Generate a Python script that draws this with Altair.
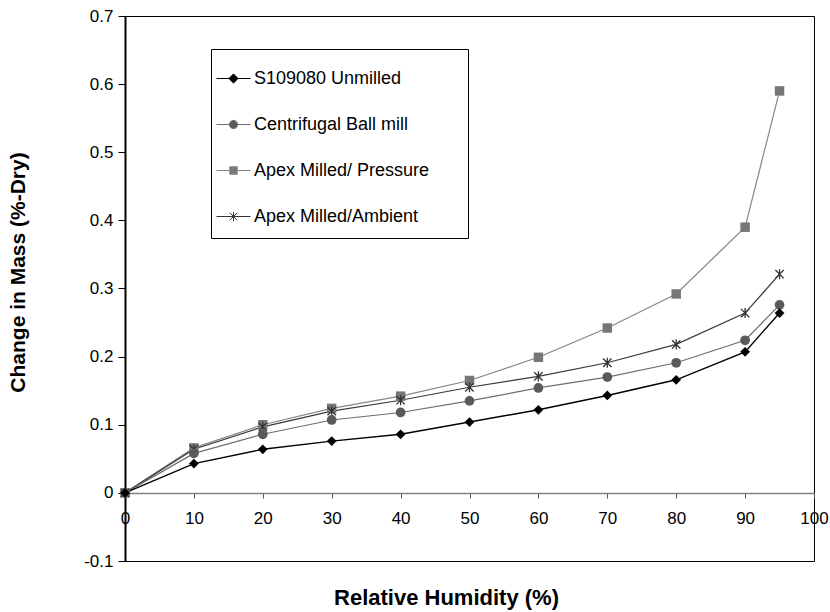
import altair as alt
import pandas as pd

# ---- data ----
rh = [0, 10, 20, 30, 40, 50, 60, 70, 80, 90, 95]
series_names = ["S109080 Unmilled", "Centrifugal Ball mill",
                "Apex Milled/ Pressure", "Apex Milled/Ambient"]
unmilled    = [0, 0.043, 0.064, 0.076, 0.086, 0.104, 0.122, 0.143, 0.166, 0.207, 0.264]
centrifugal = [0, 0.058, 0.086, 0.107, 0.118, 0.135, 0.154, 0.170, 0.191, 0.224, 0.276]
pressure    = [0, 0.066, 0.100, 0.124, 0.142, 0.165, 0.199, 0.242, 0.292, 0.390, 0.590]
ambient     = [0, 0.064, 0.097, 0.120, 0.136, 0.155, 0.171, 0.191, 0.218, 0.264, 0.321]
x_ticks = [0, 10, 20, 30, 40, 50, 60, 70, 80, 90, 100]
y_ticks = [-0.1, 0, 0.1, 0.2, 0.3, 0.4, 0.5, 0.6, 0.7]

values = [unmilled, centrifugal, pressure, ambient]
rows = []
for name, vals in zip(series_names, values):
    for x, y in zip(rh, vals):
        rows.append({"RH": x, "Mass": y, "Series": name})
df = pd.DataFrame(rows)

FONT = "Liberation Sans"
ASTER = "M-1,-1L1,1M-1,1L1,-1M0,-1.2L0,1.2"

styles = {
    "S109080 Unmilled":      dict(line="#000000", lw=1.4, shape="diamond", fill="#000000", filled=True, size=95),
    "Centrifugal Ball mill": dict(line="#6e6e6e", lw=1.2, shape="circle", fill="#5a5a5a", filled=True, size=95),
    "Apex Milled/ Pressure": dict(line="#858585", lw=1.2, shape="square", fill="#777777", filled=True, size=90),
    "Apex Milled/Ambient":   dict(line="#3a3a3a", lw=1.2, shape=ASTER, fill="#333333", filled=False, size=70),
}

x_enc = alt.X("RH:Q", scale=alt.Scale(domain=[0, 100], nice=False),
              axis=alt.Axis(values=x_ticks, title="Relative Humidity (%)", offset=-68,
                            grid=False, labelFlush=False, domainColor="#808080",
                            domainWidth=1.5, tickColor="#555555", tickSize=5,
                            labelPadding=12, labelFontSize=17, labelFont=FONT,
                            labelColor="black", titleFont=FONT, titleFontSize=22,
                            titleFontWeight="bold", titleColor="black",
                            titleX=321, titleY=104, titleBaseline="middle"))
y_enc = alt.Y("Mass:Q", scale=alt.Scale(domain=[-0.1, 0.7], nice=False),
              axis=alt.Axis(values=y_ticks, title="Change in Mass (%-Dry)", grid=False,
                            domainColor="black", domainWidth=2, tickColor="black",
                            tickSize=7, labelPadding=5, labelFontSize=17, labelFont=FONT,
                            labelColor="black",
                            labelExpr="replace(format(datum.value, '.1~f'), '\u2212', '-')",
                            titleFont=FONT, titleFontSize=21, titleFontWeight="bold",
                            titleColor="black", titleX=-107, titleY=256,
                            titleBaseline="middle"))

base = alt.Chart(df)
order = ["Apex Milled/ Pressure", "Apex Milled/Ambient", "Centrifugal Ball mill", "S109080 Unmilled"]

layers = []
for name in order:
    s = styles[name]
    layers.append(base.transform_filter(alt.datum.Series == name)
                  .mark_line(color=s["line"], strokeWidth=s["lw"])
                  .encode(x=x_enc, y=y_enc))
for name in order:
    s = styles[name]
    if s["filled"]:
        mk = base.mark_point(shape=s["shape"], filled=True, size=s["size"], color=s["fill"], opacity=1)
    else:
        mk = base.mark_point(shape=s["shape"], filled=False, size=s["size"], color=s["fill"],
                             strokeWidth=1.3, opacity=1)
    layers.append(mk.transform_filter(alt.datum.Series == name).encode(x=x_enc, y=y_enc))

# legend-only layer: symbols drawn as line + marker
leg_shapes = [
    "M-1,0L-0.27,0M-0.27,0L0,-0.27L0.27,0L0,0.27ZM0.27,0L1,0",
    "M-1,0L-0.24,0M0.24,0A0.24 0.24 0 1 1 -0.24,0A0.24 0.24 0 1 1 0.24,0ZM0.24,0L1,0",
    "M-1,0L-0.22,0M-0.22,-0.22L0.22,-0.22L0.22,0.22L-0.22,0.22ZM0.22,0L1,0",
    "M-1,0L1,0M-0.22,-0.22L0.22,0.22M-0.22,0.22L0.22,-0.22M0,-0.27L0,0.27",
]
leg_fill = ["#000000", "#5a5a5a", "#777777", "transparent"]
leg_stroke = ["#000000", "#6e6e6e", "#858585", "#333333"]

legend = alt.Legend(title="MM", titleOrient="right", titleFontSize=14, titlePadding=3,
                    titleOpacity=0, titleColor="white",
                    orient="none", legendX=86, legendY=33,
                    strokeColor="black", padding=12, rowPadding=19,
                    symbolSize=1156, symbolStrokeWidth=1, symbolOpacity=1,
                    symbolOffset=-7,
                    labelFont=FONT, labelFontSize=18, labelColor="black",
                    labelOffset=3, labelLimit=400, fillColor="white")
leg_layer = base.mark_point(filled=True, size=0, opacity=0).encode(
    x=x_enc, y=y_enc,
    shape=alt.Shape("Series:N", scale=alt.Scale(domain=series_names, range=leg_shapes), legend=legend),
    fill=alt.Fill("Series:N", scale=alt.Scale(domain=series_names, range=leg_fill), legend=legend),
    stroke=alt.Stroke("Series:N", scale=alt.Scale(domain=series_names, range=leg_stroke), legend=legend),
)
layers.append(leg_layer)

chart = alt.layer(*layers).properties(
    width=689, height=545,
    autosize=alt.AutoSizeParams(type="none"),
    padding={"left": 125, "top": 16, "right": 16, "bottom": 51},
    background="white",
).configure_view(stroke="black", strokeWidth=1)

chart.save("out.html", embed_options={"renderer": "svg", "actions": False})
